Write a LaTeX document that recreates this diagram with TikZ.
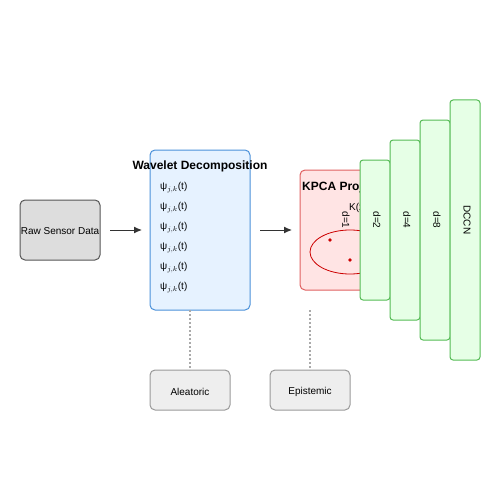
\documentclass[tikz,border=0pt]{standalone}
\usepackage{fontspec}
\setmainfont{Liberation Sans}
\usetikzlibrary{arrows.meta}
\definecolor{rawfill}{HTML}{DDDDDD}
\definecolor{rawdraw}{HTML}{555555}
\definecolor{wavfill}{HTML}{E6F2FF}
\definecolor{wavdraw}{HTML}{4A90D9}
\definecolor{kfill}{HTML}{FFE4E4}
\definecolor{kdraw}{HTML}{E06060}
\definecolor{kred}{HTML}{CC0000}
\definecolor{gfill}{HTML}{E6FFE6}
\definecolor{gdraw}{HTML}{55BB55}
\definecolor{ufill}{HTML}{EEEEEE}
\definecolor{udraw}{HTML}{999999}
\definecolor{dotc}{HTML}{AAAAAA}
\definecolor{arr}{HTML}{333333}
\tikzset{
  x=1pt, y=-1pt,
  box/.style={rounded corners=5pt, line width=1pt},
  lbl/.style={font=\fontsize{10}{12}\selectfont, inner sep=0pt},
  ttl/.style={font=\fontsize{12}{14}\selectfont\bfseries, inner sep=0pt},
  conn/.style={draw=arr, line width=1pt, -{Latex[length=8pt,width=7pt]}},
  dotl/.style={draw=dotc, line width=1.5pt, dash pattern=on 2pt off 2pt},
}
\begin{document}
\begin{tikzpicture}
\useasboundingbox (0,0) rectangle (500,500);
% raw
\draw[box, fill=rawfill, draw=rawdraw] (20,200) rectangle (100,260);
\node[lbl] (raw) at (60,231.5) {Raw Sensor Data};
\coordinate (rawR) at (110,230);
\coordinate (wavL) at (142,230);
\draw[conn] (rawR) -- (wavL);
% wavelet
\draw[box, fill=wavfill, draw=wavdraw] (150,150) rectangle (250,310);
\node[ttl] (wavt) at (200,166.5) {Wavelet Decomposition};
\foreach \i in {0,...,5} {
  \node[lbl, anchor=west] (w\i) at (160,187.5+20*\i) {ψ$_{j,k}$(t)};
}
\coordinate (wavR) at (260,230);
\coordinate (kL) at (292,230);
\draw[conn] (wavR) -- (kL);
% KPCA
\draw[box, fill=kfill, draw=kdraw] (300,170) rectangle (400,290);
\node[ttl, anchor=west] (kt) at (302,187) {KPCA Projection};
\node[lbl, anchor=west] (kk) at (349,208) {K(x,y)};
\draw[kred, line width=0.8pt] (350,252) ellipse [x radius=40, y radius=22];
\fill[kred] (330,240) circle (1.8);
\fill[kred] (350,260) circle (1.8);
\node[lbl, rotate=-90] (d1) at (346,220) {d=1};
% layers
\draw[box, fill=gfill, draw=gdraw, rounded corners=3pt] (360,160) rectangle (390,300);
\node[lbl, rotate=-90] (d2) at (377,220) {d=2};
\draw[box, fill=gfill, draw=gdraw, rounded corners=3pt] (390,140) rectangle (420,320);
\node[lbl, rotate=-90] (d4) at (407,220) {d=4};
\draw[box, fill=gfill, draw=gdraw, rounded corners=3pt] (420,120) rectangle (450,340);
\node[lbl, rotate=-90] (d8) at (437,220) {d=8};
\draw[box, fill=gfill, draw=gdraw, rounded corners=3pt] (450,100) rectangle (480,360);
\node[lbl, rotate=-90] (dccn) at (467,220) {DCCN};
% uncertainty
\draw[box, fill=ufill, draw=udraw] (150,370) rectangle (230,410);
\node[lbl] (alea) at (190,391.5) {Aleatoric};
\draw[box, fill=ufill, draw=udraw] (270,370) rectangle (350,410);
\node[lbl] (epi) at (310,391.5) {Epistemic};
\coordinate (a1) at (190,310);
\coordinate (a2) at (190,370);
\coordinate (e1) at (310,310);
\coordinate (e2) at (310,370);
\draw[dotl] (a1) -- (a2);
\draw[dotl] (e1) -- (e2);
\end{tikzpicture}
\end{document}
